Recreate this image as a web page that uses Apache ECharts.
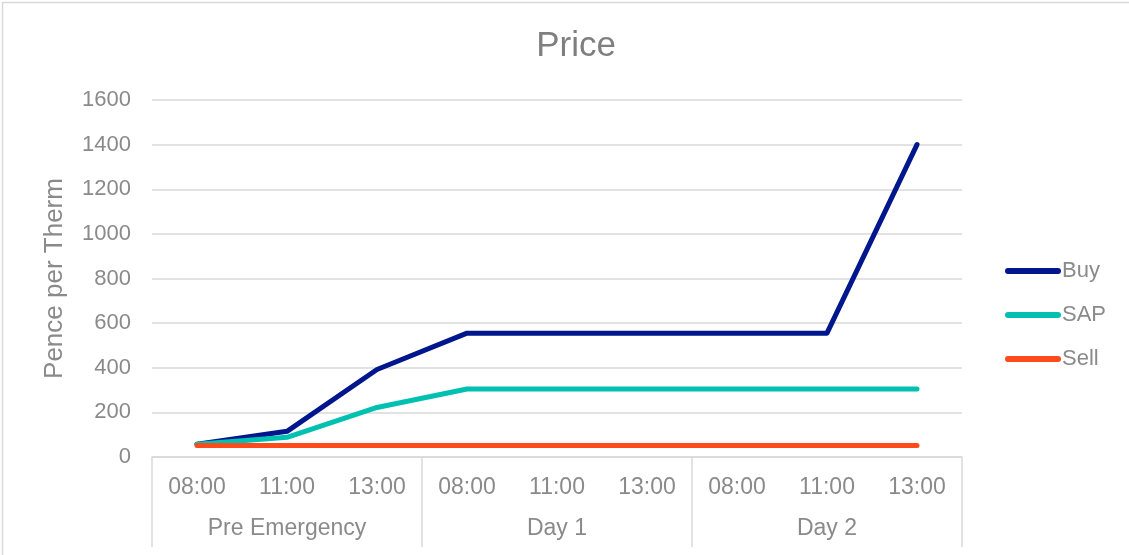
<!DOCTYPE html>
<html>
<head>
<meta charset="utf-8">
<script src="https://cdn.jsdelivr.net/npm/echarts@6/dist/echarts.min.js"></script>
<style>
  html, body { margin: 0; padding: 0; background: #fff; }
  #chart { width: 1129px; height: 555px; }
</style>
</head>
<body>
<div id="chart"></div>
<script>
var times = ["08:00", "11:00", "13:00", "08:00", "11:00", "13:00", "08:00", "11:00", "13:00"];
var groups = ["Pre Emergency", "Day 1", "Day 2"];
var buy = [57, 115, 392, 555, 555, 555, 555, 555, 1400];
var sap = [57, 88, 222, 305, 305, 305, 305, 305, 305];
var sell = [52, 52, 52, 52, 52, 52, 52, 52, 52];

var gray = "#8a8a8a";
var font = "Liberation Sans";
// legend icon: rounded thick line
var lineIcon = "path://M3,0 L53,0 A3,3 0 0 1 53,6 L3,6 A3,3 0 0 1 3,0 Z";

var chart = echarts.init(document.getElementById("chart"));
chart.setOption({
  animation: false,
  textStyle: { fontFamily: font },
  graphic: [{
    type: "rect",
    shape: { x: 2.5, y: 2.5, width: 1140, height: 570 },
    style: { fill: "none", stroke: "#d9d9d9", lineWidth: 1.5 },
    silent: true
  }],
  title: {
    text: "Price",
    left: 571,
    textAlign: "center",
    top: 24,
    textStyle: { color: "#7f7f7f", fontSize: 35, fontWeight: "normal", fontFamily: font }
  },
  legend: {
    orient: "vertical",
    left: 1000,
    top: 255,
    icon: lineIcon,
    itemWidth: 56,
    itemHeight: 6,
    itemGap: 22,
    textStyle: { color: gray, fontSize: 22, fontFamily: font, padding: [0, 0, 0, -4] },
    data: ["Buy", "SAP", "Sell"]
  },
  grid: { left: 152, right: 167, top: 100, bottom: 98 },
  xAxis: [{
    type: "category",
    data: times,
    axisLine: { lineStyle: { color: "#d9d9d9", width: 1.5 } },
    axisTick: { show: false },
    axisLabel: { color: gray, fontSize: 23, margin: 19, fontFamily: font }
  }, {
    type: "category",
    data: groups,
    position: "bottom",
    axisLine: { show: false },
    axisTick: { show: true, length: 90, lineStyle: { color: "#d9d9d9", width: 1.5 } },
    axisLabel: { color: gray, fontSize: 23, margin: 60, fontFamily: font },
    splitLine: { show: false }
  }],
  yAxis: {
    type: "value",
    min: 0,
    max: 1600,
    interval: 200,
    name: "Pence per Therm",
    nameLocation: "middle",
    nameGap: 84,
    nameTextStyle: { color: gray, fontSize: 26, fontFamily: font },
    axisLine: { show: false },
    axisTick: { show: false },
    axisLabel: {
      color: gray, fontSize: 22, margin: 21, fontFamily: font,
      formatter: function (v) { return String(v); }
    },
    splitLine: { lineStyle: { color: "#d9d9d9", width: 1.5 } }
  },
  series: [{
    name: "Buy",
    type: "line",
    data: buy,
    symbol: "none",
    color: "#00168c",
    lineStyle: { width: 5, cap: "round", join: "round" },
    z: 3
  }, {
    name: "SAP",
    type: "line",
    data: sap,
    symbol: "none",
    color: "#00c0b2",
    lineStyle: { width: 5, cap: "round", join: "round" },
    z: 4
  }, {
    name: "Sell",
    type: "line",
    data: sell,
    symbol: "none",
    color: "#ff4a1c",
    lineStyle: { width: 5, cap: "round", join: "round" },
    z: 5
  }]
});
</script>
</body>
</html>
